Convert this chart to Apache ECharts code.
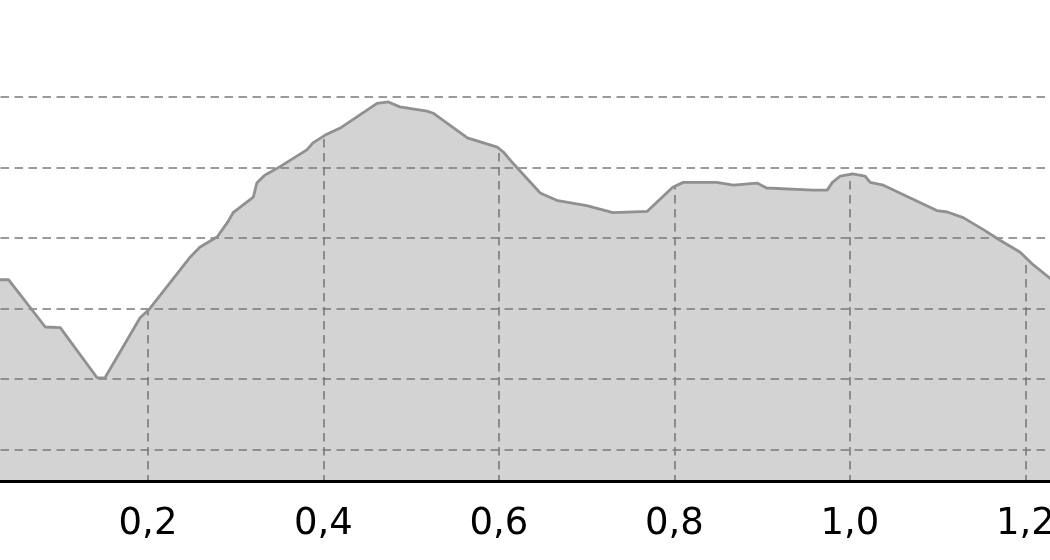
<!DOCTYPE html>
<html>
<head>
<meta charset="utf-8">
<script src="https://cdn.jsdelivr.net/npm/echarts@6/dist/echarts.min.js"></script>
<style>
html,body{margin:0;padding:0;background:#fff;}
#chart{width:1050px;height:560px;}
</style>
</head>
<body>
<div id="chart"></div>
<script>
// distance (km) and elevation (m)
const distance = [0.031,0.041,0.083,0.100,0.142,0.151,0.191,0.202,0.248,0.259,0.279,0.291,0.297,0.320,0.324,0.333,0.350,0.381,0.388,0.402,0.419,0.461,0.474,0.487,0.518,0.525,0.564,0.598,0.605,0.616,0.647,0.667,0.700,0.730,0.769,0.798,0.810,0.848,0.867,0.894,0.905,0.958,0.974,0.980,0.989,1.003,1.017,1.023,1.038,1.099,1.111,1.129,1.152,1.171,1.194,1.209,1.230];
const elevation = [274.1,274.1,267.4,267.3,260.2,260.2,268.7,270.0,277.3,278.7,280.2,282.3,283.6,285.8,287.8,288.9,290.1,292.5,293.5,294.6,295.6,299.1,299.3,298.6,298.0,297.7,294.2,292.9,292.2,290.6,286.4,285.3,284.6,283.6,283.8,287.2,287.9,287.9,287.5,287.8,287.1,286.8,286.8,287.9,288.8,289.1,288.8,287.9,287.5,283.9,283.7,282.9,281.2,279.7,278.0,276.2,274.1];
const xTicks = [0.2, 0.4, 0.6, 0.8, 1.0, 1.2];
const yGridValues = [250, 260, 270, 280, 290, 300];

const xMin = 0, xMax = 1.23, yMin = 245.5, yMax = 300;

const profile = distance.map((d, i) => [d, elevation[i]]);

const dash = [8.5, 5.5];
const chart = echarts.init(document.getElementById('chart'), null, {renderer: 'canvas'});
chart.setOption({
  animation: false,
  backgroundColor: '#ffffff',
  grid: {left: -27.5, right: -1.8, top: 97, bottom: 78.5, containLabel: false, outerBoundsMode: 'none'},
  xAxis: [
    {
      type: 'value', min: xMin, max: xMax, interval: 0.2, z: 2,
      axisLine: {show: false}, axisTick: {show: false}, axisLabel: {show: false},
      splitLine: {show: true, lineStyle: {color: '#7a7a7a', width: 1.6, type: dash}}
    },
    {
      type: 'value', min: xMin, max: xMax, interval: 0.2, position: 'bottom', offset: 0, z: 10,
      axisLine: {show: true, onZero: false, lineStyle: {color: '#000000', width: 3}},
      axisTick: {show: false},
      splitLine: {show: false},
      axisLabel: {
        show: true, margin: 24, color: '#000000', fontSize: 37,
        fontFamily: 'DejaVu Sans', hideOverlap: false,
        formatter: v => xTicks.some(t => Math.abs(t - v) < 1e-6) ? v.toFixed(1).replace('.', ',') : ''
      }
    }
  ],
  yAxis: [
    {
      type: 'value', min: yMin, max: yMax, z: 4,
      axisLine: {show: false}, axisTick: {show: false}, axisLabel: {show: false},
      splitLine: {show: false}
    }
  ],
  series: [
    {
      type: 'line', name: 'area', data: profile, z: 1,
      showSymbol: false, symbol: 'none',
      lineStyle: {width: 0, opacity: 0},
      areaStyle: {color: '#d3d3d3', opacity: 1, origin: 'start'}
    },
    {
      type: 'line', name: 'cover', data: profile, z: 3,
      showSymbol: false, symbol: 'none',
      lineStyle: {width: 0, opacity: 0},
      areaStyle: {color: '#ffffff', opacity: 1, origin: 'end'}
    },
    {
      type: 'line', name: 'grid', data: [], z: 4,
      markLine: {
        silent: true, symbol: 'none', label: {show: false},
        lineStyle: {color: '#7a7a7a', width: 1.6, type: dash},
        data: yGridValues.map(v => ({yAxis: v}))
      }
    },
    {
      type: 'line', name: 'profile', data: profile, z: 5,
      showSymbol: false, symbol: 'none',
      lineStyle: {color: '#909090', width: 2.8}
    }
  ]
});
</script>
</body>
</html>
